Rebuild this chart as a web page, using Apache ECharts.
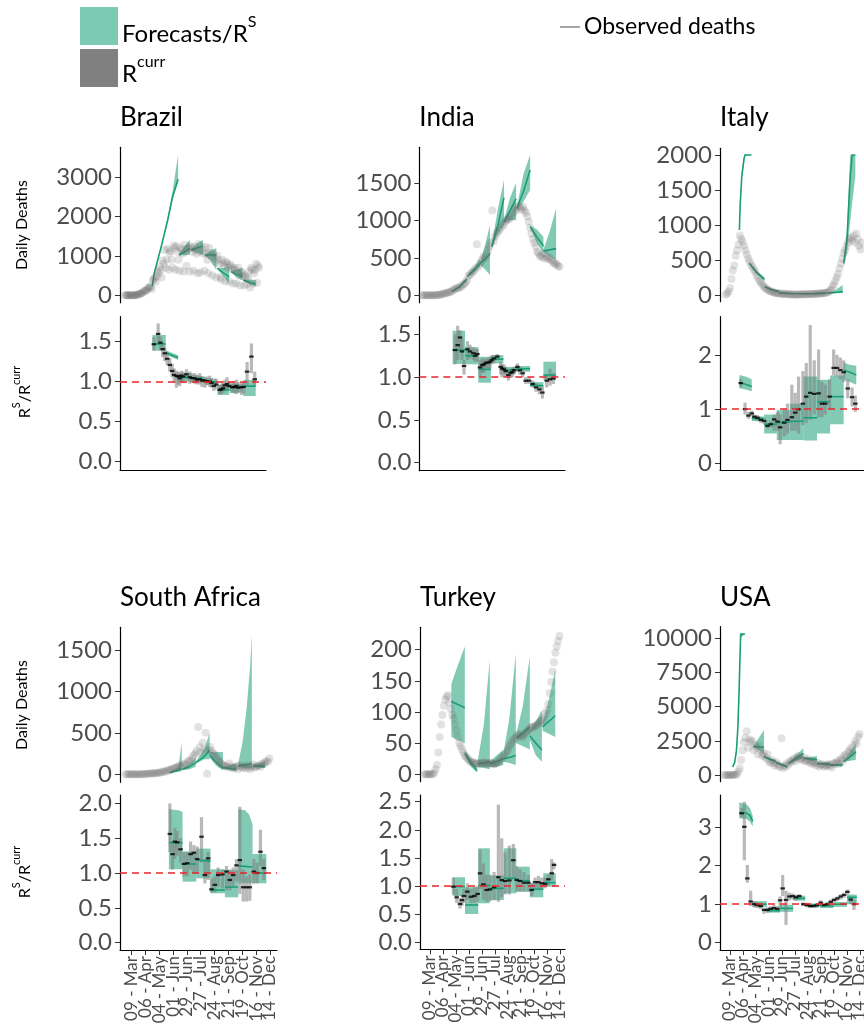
<!DOCTYPE html>
<html><head><meta charset="utf-8">
<script src="https://cdn.jsdelivr.net/npm/echarts@6/dist/echarts.min.js"></script>
<style>html,body{margin:0;padding:0;background:#fff}#c{width:864px;height:1036px}</style>
</head><body><div id="c"></div>
<script>
// ---------- axis ticks (days since 09 Mar 2020) ----------
const tickDays = [0,28,56,84,112,140,168,196,224,252,280];
const tickLabels = ['09 - Mar','06 - Apr','04 - May','01 - Jun','29 - Jun','27 - Jul','24 - Aug','21 - Sep','19 - Oct','16 - Nov','14 - Dec'];
const countries = ['Brazil','India','Italy','South Africa','Turkey','USA'];

// ---------- observed daily deaths (first day, step in days, values) ----------
const brazilDeathsStart = -12, brazilDeathsStep = 2;
const brazilDeaths = [0,0,0,0,0,0,0,0,0,0, 1,4,12,20,25,40,
 45,60,70,100,110,120,130,180,200,190,230,
 160,380,400,450,340,480,600,550,720,650,
 450,880,800,1150,700,900,1180,650,1080,1120,
 900,700,1260,1200,650,1250,1100,900,620,1200,
 1150,1050,600,1280,1100,750,1180,1200,600,1250,
 1200,1100,620,1230,1150,1050,560,1300,1100,580,
 1240,1150,1050,620,1220,1060,900,560,1200,1080,
 1000,500,1050,950,850,450,1000,900,800,450,
 400,900,820,750,350,850,800,700,350,780,
 730,650,300,700,650,300,580,700,500,250,
 600,550,480,250,500,450,280,420,600,200,
 700,650,300,550,650,800,320,750,700];
const indiaDeathsStart = -15, indiaDeathsStep = 3;
const indiaDeaths = [0,0,0,0,0,0,0,0,0, 1,3,5,8,12,15,
 20,25,30,35,40,45,55,70,80,95,
 90,100,120,110,140,150,175,200,260,270,
 300,310,330,360,680,380,420,450,480,520,
 500,550,600,650,700,1130,720,780,820,850,
 870,900,950,930,980,1000,1020,1010,1050,1060,
 1100,1150,1130,1180,1200,1170,1140,1180,1130,1100,
 1050,980,900,820,750,700,650,580,560,520,
 530,500,560,490,520,480,500,470,450,430,410,420,390,380];
const italyDeathsStart = -9, italyDeathsStep = 3;
const italyDeaths = [3,20,50,100,230,350,420,560,640,720,
 850,800,760,700,640,580,520,480,430,400,
 360,330,280,240,200,180,150,120,100,90,
 70,60,50,45,40,30,25,30,20,18,
 15,20,12,15,10,12,8,10,8,6,
 5,8,6,10,8,12,10,10,12,15,
 10,15,12,18,15,20,18,22,20,25,
 28,30,35,40,60,80,120,150,200,250,
 300,380,450,520,600,640,700,750,800,820,
 780,850,750,880,800,700,650,750];
const southAfricaDeathsStart = -12, southAfricaDeathsStep = 3;
const southAfricaDeaths = [0,0,0,0,0,0,0,0,0,0,
 1,1,2,3,5,5,8,10,12,10,
 15,12,20,18,25,30,35,30,45,50,
 55,60,70,75,80,90,100,110,95,120,
 130,110,150,170,160,200,230,250,280,570,
 330,260,380,300,500,5,290,330,280,250,
 240,200,180,160,140,120,110,100,95,90,
 130,80,90,70,85,100,60,110,90,80,
 95,70,110,85,60,90,120,80,95,100,
 110,90,130,120,140,160,150,190];
const turkeyDeathsStart = -12, turkeyDeathsStep = 3;
const turkeyDeaths = [0,0,0,0,0,0,0,2,8,15,
 35,60,80,95,110,120,125,127,115,105,
 95,90,80,70,60,50,45,40,35,30,
 28,25,23,20,20,18,18,17,18,17,
 16,18,19,18,17,18,17,19,18,17,
 16,17,18,20,22,24,27,30,33,36,
 40,45,48,52,56,58,60,63,65,62,
 60,62,65,68,70,72,75,75,76,77,
 78,80,82,84,86,88,92,97,103,113,
 130,148,165,180,195,205,214,222];
const usaDeathsStart = -12, usaDeathsStep = 3;
const usaDeaths = [0,0,0,0,0,1,5,10,20,50,
 250,500,1100,1800,2400,2700,3200,2000,2600,2400,
 2500,1800,2200,2000,1500,2100,1800,1400,1600,1350,
 1200,1500,1000,900,1100,850,700,950,800,600,
 650,2680,500,700,600,850,750,1000,950,1100,
 1200,1000,1300,1400,1150,1250,1100,1300,1000,1050,
 1150,900,1000,800,950,850,700,900,600,750,
 800,700,600,750,650,800,700,550,850,800,
 900,1000,800,1100,1200,1000,1400,1500,1300,1700,
 1800,2000,1600,2200,2500,2300,2800,3000];

// ---------- forecasts of deaths: segments of [day, mean, lower, upper] ----------
const brazilForecast = [
 [[43,235,230,242],[47,560,550,572],[61,1230,1210,1260],[74,1900,1870,1960],[84,2500,2440,2640],[95,2940,2860,3560]],
 [[97,1020,1000,1040],[108,1100,1020,1250],[118.5,1190,1030,1400]],
 [[121.7,1150,1130,1170],[133,1200,1080,1320],[145,1250,1020,1400]],
 [[148.7,1020,1000,1040],[160,1020,880,1120],[172,1020,640,1200]],
 [[174.3,680,660,700],[186,570,480,690],[197.8,470,300,720]],
 [[202,600,580,620],[213,530,450,650],[224.5,470,380,700]],
 [[226,385,370,400],[238,330,280,400],[251.3,284,220,380]]];
const indiaForecast = [
 [[48,48,45,52],[64,110,100,125],[80.2,213,190,240]],
 [[81.6,253,240,265],[95,330,300,370],[108.6,424,380,480]],
 [[108.6,424,410,440],[120,480,340,680],[130,557,271,937]],
 [[133.6,646,620,670],[147,930,820,1150],[160,1302,937,1537]],
 [[160,979,960,1000],[173,1130,1000,1300],[186,1290,1000,1501]],
 [[187.5,1157,1140,1175],[202,1390,1250,1620],[216,1670,1404,1870]],
 [[216,915,900,930],[230,780,700,880],[244.6,658,560,780]],
 [[244.6,591,570,610],[258,605,520,850],[271.7,622,471,1157]]];
const italyForecast = [
 [[20,929,910,950],[21.5,1260,1220,1300],[25,1690,1630,1760],[30,1950,1900,2000],[32,2000,1990,2000],[46,2000,2000,2000]],
 [[41.4,452,440,465],[57,320,300,345],[73.5,224,200,255]],
 [[74.4,119,110,130],[89,75,65,88],[104.4,48,40,60]],
 [[104.4,30,25,35],[130,22,18,28],[155,18,14,24]],
 [[155,18,14,22],[180,20,15,28],[205,26,18,40]],
 [[207,24,20,30],[225,36,25,70],[241,48,30,143]],
 [[243,452,420,480],[250,786,600,900],[253.7,1262,850,1500],[257,1690,1050,2000],[261,2000,1300,2000],[268,2000,1700,2000]]];
const southAfricaForecast = [
 [[77,20,15,25],[95,50,30,90],[101.5,70,35,394]],
 [[103,60,50,70],[117,90,60,130],[130,140,90,200]],
 [[130,140,130,150],[148,220,180,320],[158,290,180,495]],
 [[158,230,200,270],[172,140,100,270],[185,80,50,270]],
 [[185,80,70,90],[200,70,50,110],[212,60,40,130]],
 [[216,100,90,130],[225,110,80,400],[233,118,75,800],[240,125,70,1300],[243.5,130,70,1690]],
 [[246,100,85,115],[258,98,80,130],[270,95,75,150]]];
const turkeyForecast = [
 [[46,117,60,145],[60,112,55,175],[75,107,50,205]],
 [[75,34,30,38],[88,18,12,25],[101.5,6,3,12]],
 [[103,17,12,22],[116,18,10,80],[128.8,20,8,184]],
 [[128.8,17,12,20],[143,20,12,30],[157.5,25,15,39]],
 [[157.5,25,20,30],[171,27,18,90],[184.8,30,15,194]],
 [[186,58,50,65],[200,66,45,110],[215,76,40,189]],
 [[215,62,55,70],[228,50,30,85],[241,39,20,103]],
 [[242.5,76,70,82],[256,85,65,120],[269.8,94,60,168]]];
const usaForecast = [
 [[5.7,600,580,620],[10,900,860,950],[14,1800,1700,1900],[17,3500,3300,3700],[19.5,6000,5600,6400],[21.5,8500,8000,9000],[23,10300,10000,10300],[32,10300,10300,10300]],
 [[50.2,2080,2050,2110],[62,2060,1800,2700],[73.3,2030,1530,3290]],
 [[73.3,1340,1300,1380],[86,1150,1050,1260],[98,1000,900,1120]],
 [[98,950,920,980],[110,760,680,860],[123,600,520,720]],
 [[126,850,820,880],[142,1200,1050,1450],[158,1584,1250,1950]],
 [[158,1220,1180,1260],[172,1180,1050,1320],[187,1150,950,1380]],
 [[187,850,820,880],[201,820,720,920],[215,800,650,960]],
 [[215,730,700,760],[229,730,640,830],[242.5,730,600,880]],
 [[244,975,940,1010],[258,1300,1050,1650],[271,1706,1100,2290]]];

// ---------- R^S forecasts: segments of [day, mean, lower, upper] ----------
const brazilRs = [
 [[43.4,1.464,1.381,1.576],[70.2,1.464,1.381,1.576]],
 [[70.2,1.356,1.33,1.385],[95,1.294,1.265,1.325]],
 [[95,1.05,0.995,1.1],[121.7,1.05,0.995,1.1]],
 [[121.7,1.04,0.995,1.08],[148.7,1.02,0.98,1.06]],
 [[148.7,1.003,0.96,1.04],[172,0.99,0.95,1.03]],
 [[174.3,0.892,0.83,0.955],[197.8,0.892,0.83,0.955]],
 [[199,0.925,0.855,0.967],[224.5,0.93,0.86,0.97]],
 [[226,0.942,0.817,1.017],[251.3,0.94,0.817,1.017]]];
const indiaRs = [
 [[50,1.316,1.153,1.542],[76.5,1.316,1.153,1.542]],
 [[76.5,1.25,1.15,1.35],[105,1.25,1.15,1.35]],
 [[105,1.09,0.935,1.238],[132,1.09,0.935,1.238]],
 [[132,1.21,1.16,1.257],[158.7,1.21,1.16,1.257]],
 [[158.7,1.083,1.044,1.12],[185.9,1.083,1.044,1.12]],
 [[185.9,1.098,1.063,1.13],[215.9,1.098,1.063,1.13]],
 [[215.9,0.908,0.888,0.946],[244.5,0.9,0.87,0.94]],
 [[244.5,1.024,0.966,1.18],[271.6,1.024,0.966,1.18]]];
const italyRs = [
 [[20,1.488,1.384,1.629],[33,1.46,1.36,1.6],[46.4,1.415,1.33,1.55]],
 [[46.4,0.83,0.78,0.87],[73,0.82,0.77,0.86]],
 [[73,0.72,0.55,0.9],[100,0.72,0.55,0.9]],
 [[100,0.75,0.43,0.98],[128,0.76,0.43,0.98]],
 [[128,0.77,0.43,1.1],[157,0.78,0.43,1.1]],
 [[157,0.84,0.42,1.6],[186,0.84,0.42,1.6]],
 [[186,1.137,0.55,1.54],[214,1.137,0.55,1.54]],
 [[214,1.23,0.72,1.62],[243,1.23,0.72,1.62]],
 [[243,1.72,1.55,1.86],[256,1.68,1.5,1.82],[270,1.63,1.45,1.8]]];
const southAfricaRs = [
 [[75.5,1.435,1.053,1.914],[95,1.435,1.053,1.9],[103.2,1.435,1.053,1.88]],
 [[103.2,1.129,0.875,1.31],[131,1.13,0.875,1.31]],
 [[131,1.186,0.923,1.35],[159.8,1.17,0.923,1.35]],
 [[159.8,0.756,0.709,1.053],[188.9,0.756,0.709,1.053]],
 [[188.9,0.795,0.651,1.043],[216,0.8,0.651,1.043]],
 [[216,1.0995,0.852,1.914],[230,1.095,0.852,1.9],[238,1.09,0.852,1.84],[245,1.085,0.852,1.7]],
 [[245,1.0,0.852,1.272],[273,1.0,0.852,1.272]]];
const turkeyRs = [
 [[48.9,0.99,0.824,1.157],[75.4,0.99,0.824,1.157]],
 [[75.4,0.663,0.503,0.98],[104,0.663,0.503,0.98]],
 [[104,1.01,0.694,1.672],[129,1.01,0.694,1.672]],
 [[129,0.96,0.75,1.19],[159,0.96,0.75,1.19]],
 [[159,1.138,0.871,1.672],[186,1.138,0.871,1.672]],
 [[186,1.096,0.9,1.345],[215,1.096,0.9,1.345]],
 [[215,0.943,0.8,1.05],[244,0.943,0.8,1.05]],
 [[244,1.061,0.99,1.227],[271,1.061,0.99,1.227]]];
const usaRs = [
 [[20,3.38,3.23,3.64],[35,3.37,3.22,3.6],[43,3.3,3.14,3.5],[49,3.15,3.02,3.3]],
 [[50,1.0,0.92,1.08],[79,1.0,0.92,1.08]],
 [[79,0.832,0.78,0.9],[108,0.832,0.78,0.9]],
 [[108,0.892,0.8,0.98],[136,0.892,0.8,0.98]],
 [[136,1.152,1.09,1.22],[162,1.152,1.09,1.22]],
 [[162,0.98,0.93,1.02],[194,0.98,0.93,1.02]],
 [[194,0.953,0.9,1.0],[223,0.953,0.9,1.0]],
 [[223,1.0,0.93,1.06],[252,1.0,0.93,1.06]],
 [[252,1.178,1.0,1.25],[273,1.178,1.0,1.25]]];

// ---------- R^curr estimates: [day, median, lower, upper] ----------
const brazilRcurr = [[46.1,1.46,1.38,1.55],[54.8,1.589,1.45,1.72],[59.5,1.48,1.38,1.56],[64,1.4,1.3,1.48],[68.2,1.348,1.25,1.42],[73,1.28,1.2,1.36],[78.3,1.203,1.12,1.29],[83,1.128,1.05,1.22],[87,1.08,0.98,1.16],[91.7,1.066,0.92,1.13],[95,1.06,0.96,1.12],[98.4,1.037,0.94,1.09],[101.5,1.07,0.98,1.13],[105.1,1.058,0.99,1.12],[111.8,1.087,1.02,1.15],[118.5,1.05,0.97,1.12],[123,1.04,0.98,1.1],[128.6,1.037,0.97,1.1],[133,1.02,0.96,1.08],[138.7,1.029,0.96,1.1],[143,1.01,0.93,1.06],[148.7,1.008,0.92,1.05],[153,1.0,0.95,1.06],[158.8,0.996,0.93,1.07],[162,0.98,0.92,1.04],[166.8,0.942,0.88,1.0],[172,0.96,0.9,1.03],[178.9,0.892,0.84,0.95],[182,0.9,0.84,0.97],[185.6,0.913,0.86,1.0],[189,0.95,0.88,1.02],[193.6,0.967,0.9,1.05],[198,0.94,0.88,1.0],[204.4,0.925,0.86,0.98],[208,0.93,0.85,1.0],[212.4,0.942,0.84,1.02],[216,0.92,0.86,0.99],[222.5,0.925,0.83,0.98],[227,0.93,0.85,0.99],[233.9,1.12,0.95,1.24],[242.6,1.307,1.1,1.47],[249.3,1.025,0.95,1.12]];
const indiaRcurr = [[55.1,1.316,1.15,1.5],[60.8,1.374,1.2,1.6],[65.8,1.463,1.3,1.55],[70,1.3,1.2,1.45],[74.4,1.13,1.03,1.2],[81.5,1.325,1.2,1.42],[87.2,1.3,1.22,1.38],[94.4,1.28,1.2,1.35],[98,1.25,1.18,1.32],[103,1.27,1.18,1.33],[108.6,1.113,1.0,1.2],[113.6,1.14,1.05,1.22],[117,1.15,1.05,1.2],[121.5,1.168,1.09,1.22],[126,1.17,1.1,1.22],[130,1.18,1.1,1.24],[134,1.2,1.15,1.25],[138.7,1.22,1.17,1.26],[145.8,1.24,1.2,1.27],[152.9,1.12,1.03,1.18],[156,1.1,1.0,1.15],[160.1,1.09,1.02,1.15],[164,1.07,1.0,1.12],[169.4,1.024,0.96,1.08],[174.4,1.05,0.99,1.1],[178,1.06,1.0,1.1],[181.5,1.083,1.03,1.12],[188.7,1.12,1.07,1.16],[194,1.08,1.03,1.12],[200.1,1.045,1.0,1.09],[206.5,0.958,0.92,1.0],[213.7,0.958,0.92,1.0],[221.6,0.92,0.88,0.96],[228.7,0.88,0.83,0.93],[235.9,0.857,0.8,0.91],[242.3,0.82,0.75,0.88],[251.6,0.958,0.88,1.03],[258.7,0.974,0.9,1.1],[265.8,0.985,0.92,1.05]];
const italyRcurr = [[22.8,1.48,1.4,1.56],[32.1,1.0,0.9,1.12],[39.3,0.88,0.82,0.95],[46.5,0.92,0.87,0.97],[52,0.86,0.8,0.9],[58.6,0.84,0.78,0.89],[65.8,0.8,0.74,0.86],[72.9,0.78,0.72,0.84],[80,0.69,0.64,0.75],[87.2,0.72,0.66,0.78],[94.3,0.81,0.6,0.9],[101.5,0.77,0.6,0.95],[107.2,0.664,0.35,0.9],[115.8,0.75,0.5,1.0],[122.9,0.8,0.55,1.1],[132.2,0.85,0.6,1.45],[139.4,0.935,0.6,1.3],[146.5,0.996,0.55,1.6],[155.8,1.1,0.7,1.7],[163,1.23,0.75,1.85],[171.5,1.3,0.8,2.55],[180.1,1.28,0.9,1.9],[189.4,1.29,0.85,2.1],[196.6,1.1,0.85,1.5],[203.7,1.1,0.9,1.45],[213,1.23,1.0,1.55],[221.6,1.76,1.62,2.1],[228.8,1.76,1.6,2.0],[236,1.72,1.55,1.95],[243.1,1.68,1.5,1.9],[251.7,1.38,1.2,1.55],[261,1.22,1.05,1.4],[268,1.1,0.95,1.25]];
const southAfricaRcurr = [[77.5,1.56,1.3,2.0],[82.9,1.27,1.05,1.45],[87.6,1.45,1.2,1.65],[92.4,1.44,1.25,1.6],[99.1,1.34,1.15,1.5],[105.9,1.13,0.95,1.3],[112.6,1.14,0.95,1.3],[119.4,1.27,1.05,1.45],[126.1,1.29,1.0,1.4],[132.8,1.2,1.0,1.38],[141.6,1.52,1.15,1.8],[148.4,0.97,0.85,1.2],[155.1,1.21,0.9,1.3],[161.8,0.766,0.72,0.92],[168.6,0.83,0.72,0.95],[175.3,0.97,0.8,1.08],[184.1,0.98,0.78,1.05],[192.2,1.02,0.75,1.1],[198.9,0.9,0.75,1.05],[205.7,0.97,0.8,1.08],[212.4,1.11,0.88,1.2],[219.2,1.185,0.7,1.95],[226,0.795,0.59,1.05],[232.7,0.795,0.59,0.95],[239.4,0.795,0.6,0.98],[247.5,1.02,0.85,1.2],[254.3,1.0,0.85,1.15],[261,1.305,1.1,1.62],[267.8,1.07,0.9,1.2]];
const turkeyRcurr = [[50.4,0.99,0.85,1.15],[57.5,0.8,0.7,0.95],[64.7,0.681,0.6,0.78],[69,0.75,0.65,0.85],[73.3,0.823,0.7,0.95],[80.5,0.9,0.75,1.05],[88.4,0.81,0.7,0.95],[95.5,0.823,0.7,0.98],[102.7,0.86,0.72,1.0],[107.8,1.227,0.95,1.65],[115,1.03,0.75,1.4],[122.1,0.93,0.72,1.2],[129.3,0.94,0.73,1.2],[138,0.977,0.75,1.25],[147.3,1.157,0.72,2.45],[154.5,1.107,0.8,1.85],[161.6,1.09,0.85,1.6],[170.9,1.1,0.85,1.72],[179.5,1.46,1.15,1.75],[186.7,1.11,0.9,1.35],[194,1.09,0.9,1.3],[202.6,1.06,0.9,1.25],[211.9,1.06,0.9,1.2],[219,0.93,0.82,1.05],[226.3,1.07,0.95,1.15],[233.5,1.07,0.95,1.18],[240.7,1.05,0.95,1.15],[247.8,1.04,0.96,1.15],[255,1.12,1.0,1.2],[262.2,1.227,1.1,1.48],[267.2,1.376,1.3,1.42]];
const usaRcurr = [[25.1,3.36,3.25,3.5],[30.9,3.01,2.14,3.66],[37.4,1.67,1.56,2.02],[44.5,1.07,0.95,1.35],[51.7,1.0,0.92,1.08],[58.9,0.98,0.9,1.05],[66.1,0.95,0.88,1.02],[73.3,0.85,0.75,0.9],[80.5,0.85,0.78,0.92],[87.6,0.88,0.8,0.95],[94.8,0.9,0.82,0.98],[102,0.88,0.8,0.95],[108,1.1,0.9,1.2],[113.5,1.41,1.21,1.76],[120.7,1.11,0.46,1.35],[127.9,1.2,1.1,1.3],[135.1,1.21,1.12,1.28],[142.2,1.18,1.1,1.25],[149.4,1.21,1.12,1.26],[158,1.0,0.95,1.05],[165.2,0.98,0.92,1.04],[172.4,0.95,0.9,1.0],[179.6,0.95,0.9,1.0],[186.8,0.97,0.9,1.03],[195.4,1.04,0.97,1.1],[202.6,0.98,0.92,1.04],[209.8,1.0,0.93,1.06],[217,1.06,1.0,1.12],[224.1,1.11,1.05,1.17],[231.3,1.15,1.08,1.2],[238.5,1.2,1.12,1.26],[245.7,1.24,1.16,1.3],[252.9,1.32,1.25,1.38],[260,1.12,1.0,1.2],[267.2,1.0,0.85,1.1]];

// ---------- y tick labels ----------
const deathTicks = [[0,1000,2000,3000],[0,500,1000,1500],[0,500,1000,1500,2000],[0,500,1000,1500],[0,50,100,150,200],[0,2500,5000,7500,10000]];
const ratioTicks = [[0,0.5,1,1.5],[0,0.5,1,1.5],[0,1,2],[0,0.5,1,1.5,2],[0,0.5,1,1.5,2,2.5],[0,1,2,3]];

// ---------- layout (pixels) & axis ranges ----------
const panels = [
 {left:120, width:146, tTop:147.3, tH:155.4, bTop:316.7, bH:153.3, x:[-22,272], yT:[-187,3747], yB:[-0.103,1.803], dec:1, labels:false},
 {left:419.3, width:145.7, tTop:147.3, tH:155.4, bTop:316.7, bH:154, x:[-21.5,290.8], yT:[-99,1973], yB:[-0.093,1.706], dec:1, labels:false},
 {left:720, width:146, tTop:148.3, tH:153.4, bTop:316.7, bH:153.3, x:[-21.5,290.8], yT:[-96,2096], yB:[-0.124,2.705], dec:0, labels:false},
 {left:120, width:157, tTop:627.3, tH:155, bTop:795, bH:155, x:[-23.5,294.5], yT:[-97,1775], yB:[-0.105,2.119], dec:1, labels:true},
 {left:420, width:145, tTop:627.3, tH:154.4, bTop:795, bH:154.3, x:[-21.5,290.8], yT:[-11.9,236], yB:[-0.125,2.62], dec:1, labels:true},
 {left:720, width:145, tTop:626.7, tH:155, bTop:795, bH:155, x:[-21.5,290.8], yT:[-490,10840], yB:[-0.19,3.836], dec:0, labels:true}];

const obs = [
 [brazilDeathsStart, brazilDeathsStep, brazilDeaths],
 [indiaDeathsStart, indiaDeathsStep, indiaDeaths],
 [italyDeathsStart, italyDeathsStep, italyDeaths],
 [southAfricaDeathsStart, southAfricaDeathsStep, southAfricaDeaths],
 [turkeyDeathsStart, turkeyDeathsStep, turkeyDeaths],
 [usaDeathsStart, usaDeathsStep, usaDeaths]];
const forecasts = [brazilForecast, indiaForecast, italyForecast, southAfricaForecast, turkeyForecast, usaForecast];
const rsList = [brazilRs, indiaRs, italyRs, southAfricaRs, turkeyRs, usaRs];
const rcList = [brazilRcurr, indiaRcurr, italyRcurr, southAfricaRcurr, turkeyRcurr, usaRcurr];

const FONT = 'Lato';
const RIBBON = 'rgba(27,158,119,0.55)';
const LINE = '#1b9e77';
const TXT = '#4d4d4d';

const grids = [], xAxes = [], extraX = [], yAxes = [], series = [], titles = [];

function yAxis(gi, range, ticks, dec) {
  return {type:'value', gridIndex:gi, min:range[0], max:range[1],
    axisLine:{show:true, onZero:false, lineStyle:{color:'#000', width:1.2}},
    axisTick:{show:true, length:5, customValues:ticks, lineStyle:{color:'#333', width:1}},
    axisLabel:{show:true, customValues:ticks, margin:8, fontSize:24, fontFamily:FONT, color:TXT,
      showMinLabel:true, showMaxLabel:true, hideOverlap:false,
      formatter: v => dec ? Number(v).toFixed(dec) : String(Math.round(v))},
    splitLine:{show:false}};
}
// date-label axis: one for the even ticks, one for the odd ticks, so no label hides another
function dateAxis(gi, range, days, withLine) {
  return {type:'value', gridIndex:gi, position:'bottom', offset:0, min:range[0], max:range[1],
    axisLine:{show:withLine, onZero:false, lineStyle:{color:'#000', width:1.2}},
    axisTick:{show:true, length:5, customValues:days, lineStyle:{color:'#333'}},
    axisLabel:{show:true, customValues:days, rotate:90, margin:6, fontSize:17,
      fontFamily:FONT, color:TXT, showMinLabel:true, showMaxLabel:true, hideOverlap:false,
      formatter: v => { const k = tickDays.indexOf(Math.round(v)); return k >= 0 ? tickLabels[k] : ''; }},
    splitLine:{show:false}};
}
function ribbonSeries(gi, segs) {
  return {type:'custom', xAxisIndex:gi, yAxisIndex:gi, silent:true,
    data: segs.map(s => [s[0][0], s[0][1]]),
    renderItem: (params, api) => {
      const s = segs[params.dataIndex];
      const up = s.map(p => api.coord([p[0], p[3]]));
      const lo = s.map(p => api.coord([p[0], p[2]])).reverse();
      return {type:'polygon', shape:{points: up.concat(lo)}, style:{fill: RIBBON}};
    }};
}
function meanSeries(gi, segs) {
  return {type:'custom', xAxisIndex:gi, yAxisIndex:gi, silent:true,
    data: segs.map(s => [s[0][0], s[0][1]]),
    renderItem: (params, api) => {
      const s = segs[params.dataIndex];
      return {type:'polyline', shape:{points: s.map(p => api.coord([p[0], p[1]]))},
        style:{stroke: LINE, lineWidth:1.6, fill:'none'}};
    }};
}
function barSeries(gi, rc) {
  return {type:'custom', xAxisIndex:gi, yAxisIndex:gi, silent:true,
    data: rc.map(r => [r[0], r[1]]),
    renderItem: (params, api) => {
      const r = rc[params.dataIndex];
      const t = api.coord([r[0], r[3]]), b = api.coord([r[0], r[2]]);
      return {type:'rect', shape:{x:t[0]-1.6, y:t[1], width:3.2, height:b[1]-t[1]},
        style:{fill:'rgba(128,128,128,0.55)'}};
    }};
}

const evenDays = tickDays.filter((d, k) => k % 2 === 0);
const oddDays = tickDays.filter((d, k) => k % 2 === 1);

panels.forEach((p, i) => {
  const gt = 2*i, gb = 2*i+1;
  grids.push({left:p.left, top:p.tTop, width:p.width, height:p.tH, outerBoundsMode:'none'});
  grids.push({left:p.left, top:p.bTop, width:p.width, height:p.bH, outerBoundsMode:'none'});
  xAxes.push({type:'value', gridIndex:gt, min:p.x[0], max:p.x[1], show:false});
  if (p.labels) {
    xAxes.push(dateAxis(gb, p.x, evenDays, true));
    extraX.push(dateAxis(gb, p.x, oddDays, false));
  } else {
    xAxes.push({type:'value', gridIndex:gb, position:'bottom', min:p.x[0], max:p.x[1],
      axisLine:{show:true, onZero:false, lineStyle:{color:'#000', width:1.2}},
      axisTick:{show:false}, axisLabel:{show:false}, splitLine:{show:false}});
  }
  yAxes.push(yAxis(gt, p.yT, deathTicks[i], 0));
  yAxes.push(yAxis(gb, p.yB, ratioTicks[i], p.dec));

  const o = obs[i];
  series.push({type:'scatter', xAxisIndex:gt, yAxisIndex:gt, silent:true, symbolSize:8,
    itemStyle:{color:'rgba(105,105,105,0.24)'},
    data: o[2].map((v, k) => [o[0] + k*o[1], v])});
  series.push(ribbonSeries(gt, forecasts[i]));
  series.push(meanSeries(gt, forecasts[i]));

  series.push(ribbonSeries(gb, rsList[i]));
  series.push(barSeries(gb, rcList[i]));
  series.push(meanSeries(gb, rsList[i]));
  series.push({type:'scatter', xAxisIndex:gb, yAxisIndex:gb, silent:true, symbol:'rect', symbolSize:[4.5,2.2],
    itemStyle:{color:'#000'}, data: rcList[i].map(r => [r[0], r[1]]),
    markLine:{silent:true, symbol:'none', label:{show:false},
      lineStyle:{color:'#e8262a', type:[7,5], width:1.5}, data:[{yAxis:1}]}});

  titles.push({text:countries[i], left:p.left, top: i < 3 ? 105 : 585, padding:0,
    textStyle:{fontSize:26, fontWeight:'normal', fontFamily:FONT, color:'#000'}});
});

const rich16 = {a:{fontSize:16, fontFamily:FONT, fill:'#000', lineHeight:22, verticalAlign:'bottom'},
                b:{fontSize:11, fontFamily:FONT, fill:'#000', verticalAlign:'top'}};
const graphics = [
  {type:'rect', shape:{x:80, y:7, width:38, height:38}, style:{fill:'#7ccab3'}},
  {type:'rect', shape:{x:80, y:49, width:38, height:38}, style:{fill:'#808080'}},
  {type:'text', x:122, y:30, style:{text:'{a|Forecasts/R}{b|S}', verticalAlign:'middle',
     rich:{a:{fontSize:24, fontFamily:FONT, fill:'#000', lineHeight:32, verticalAlign:'bottom'},
           b:{fontSize:16, fontFamily:FONT, fill:'#000', verticalAlign:'top'}}}},
  {type:'text', x:122, y:70, style:{text:'{a|R}{b|curr}', verticalAlign:'middle',
     rich:{a:{fontSize:24, fontFamily:FONT, fill:'#000', lineHeight:32, verticalAlign:'bottom'},
           b:{fontSize:16, fontFamily:FONT, fill:'#000', verticalAlign:'top'}}}},
  {type:'line', shape:{x1:560, y1:27, x2:580, y2:27}, style:{stroke:'#888', lineWidth:1.5}},
  {type:'text', x:584, y:27, style:{text:'Observed deaths', fontSize:23, fontFamily:FONT, fill:'#000', verticalAlign:'middle'}},
  {type:'text', x:22, y:225, rotation:Math.PI/2, style:{text:'Daily Deaths', fontSize:16, fontFamily:FONT, fill:'#000', align:'center', verticalAlign:'middle'}},
  {type:'text', x:22, y:705, rotation:Math.PI/2, style:{text:'Daily Deaths', fontSize:16, fontFamily:FONT, fill:'#000', align:'center', verticalAlign:'middle'}},
  {type:'text', x:22, y:392, rotation:Math.PI/2, style:{text:'{a|R}{b|S}{a|/R}{b|curr}', align:'center', verticalAlign:'middle', rich:rich16}},
  {type:'text', x:22, y:872, rotation:Math.PI/2, style:{text:'{a|R}{b|S}{a|/R}{b|curr}', align:'center', verticalAlign:'middle', rich:rich16}}
];

const chart = echarts.init(document.getElementById('c'), null, {renderer:'canvas'});
chart.setOption({animation:false, backgroundColor:'#fff', title:titles, grid:grids,
  xAxis:xAxes.concat(extraX), yAxis:yAxes, series:series, graphic:graphics});
</script></body></html>
